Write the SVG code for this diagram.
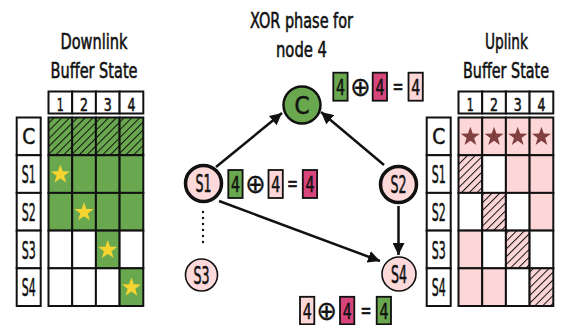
<svg xmlns="http://www.w3.org/2000/svg" width="568" height="325" viewBox="0 0 568 325">
  <style>
    text { font-family: "DejaVu Sans Condensed", "DejaVu Sans", sans-serif; font-stretch: condensed; fill: #111; stroke: #111; stroke-width: 0.55; text-anchor: middle; }
    .title { font-size: 21px; }
    .hdr { font-size: 18px; }
    .lbl { font-size: 25px; }
    .lblc { font-size: 22px; }
    .node { font-size: 24px; }
    .eq { font-size: 22px; }
    .op { font-family: "DejaVu Sans", sans-serif; font-size: 27px; stroke-width: 0.35; }
    .eqs { font-family: "DejaVu Sans", sans-serif; font-size: 22px; stroke-width: 0.6; }
    .cell { stroke: #111; stroke-width: 2; }
    .w { fill: #fff; }
    .g { fill: #6aa84f; }
    .p { fill: #fdd6d8; }
    .m { fill: #d6467c; }
    .box { stroke: #111; stroke-width: 1.8; }
    .edge { fill: none; stroke: #111; stroke-width: 2.5; }
  </style>
  <defs>
    <marker id="arrow" markerUnits="userSpaceOnUse" markerWidth="14" markerHeight="12" refX="12" refY="6" orient="auto">
      <path d="M0,0 L12,6 L0,12 Z" fill="#111"/>
    </marker>
    <pattern id="hatch-g" patternUnits="userSpaceOnUse" width="5.5" height="5.5" patternTransform="rotate(45)">
      <rect width="5.5" height="5.5" fill="#6aa84f"/>
      <line x1="0" y1="0" x2="0" y2="5.5" stroke="#111" stroke-width="2"/>
    </pattern>
    <pattern id="hatch-p" patternUnits="userSpaceOnUse" width="5.5" height="5.5" patternTransform="rotate(45)">
      <rect width="5.5" height="5.5" fill="#fdd6d8"/>
      <line x1="0" y1="0" x2="0" y2="5.5" stroke="#111" stroke-width="2"/>
    </pattern>
    <path id="star" d="M0,-10 L2.35,-3.24 L9.51,-3.09 L3.8,1.24 L5.88,8.09 L0,4 L-5.88,8.09 L-3.8,1.24 L-9.51,-3.09 L-2.35,-3.24 Z"/>
  </defs>

  <!-- Downlink buffer state table -->
  <g id="downlink">
    <text class="title" x="94" y="49" textLength="67" lengthAdjust="spacingAndGlyphs">Downlink</text>
    <text class="title" x="94" y="77.5" textLength="87" lengthAdjust="spacingAndGlyphs">Buffer State</text>
    <!-- column headers -->
    <g class="cell w">
      <rect x="48.5" y="91.5" width="23.7" height="22"/>
      <rect x="72.2" y="91.5" width="23.7" height="22"/>
      <rect x="95.9" y="91.5" width="23.7" height="22"/>
      <rect x="119.6" y="91.5" width="23.7" height="22"/>
    </g>
    <text class="hdr" x="60.35" y="110.5" textLength="7" lengthAdjust="spacingAndGlyphs">1</text>
    <text class="hdr" x="84.05" y="110.5" textLength="8" lengthAdjust="spacingAndGlyphs">2</text>
    <text class="hdr" x="107.75" y="110.5" textLength="8" lengthAdjust="spacingAndGlyphs">3</text>
    <text class="hdr" x="131.45" y="110.5" textLength="8" lengthAdjust="spacingAndGlyphs">4</text>
    <!-- row labels -->
    <g class="cell w">
      <rect x="16.7" y="117.5" width="24" height="37.7"/>
      <rect x="16.7" y="155.2" width="24" height="37.7"/>
      <rect x="16.7" y="192.9" width="24" height="37.7"/>
      <rect x="16.7" y="230.6" width="24" height="37.7"/>
      <rect x="16.7" y="268.3" width="24" height="37.7"/>
    </g>
    <text class="lblc" x="28.7" y="144.3" textLength="13" lengthAdjust="spacingAndGlyphs">C</text>
    <text class="lbl" x="28.7" y="183.2" textLength="14" lengthAdjust="spacingAndGlyphs">S1</text>
    <text class="lbl" x="28.7" y="220.9" textLength="14" lengthAdjust="spacingAndGlyphs">S2</text>
    <text class="lbl" x="28.7" y="258.6" textLength="14" lengthAdjust="spacingAndGlyphs">S3</text>
    <text class="lbl" x="28.7" y="296.3" textLength="14" lengthAdjust="spacingAndGlyphs">S4</text>
    <!-- cells -->
    <g class="cell">
      <rect x="48.5" y="117.5" width="23.7" height="37.7" fill="url(#hatch-g)"/>
      <rect x="72.2" y="117.5" width="23.7" height="37.7" fill="url(#hatch-g)"/>
      <rect x="95.9" y="117.5" width="23.7" height="37.7" fill="url(#hatch-g)"/>
      <rect x="119.6" y="117.5" width="23.7" height="37.7" fill="url(#hatch-g)"/>

      <rect class="g" x="48.5" y="155.2" width="23.7" height="37.7"/>
      <rect class="g" x="72.2" y="155.2" width="23.7" height="37.7"/>
      <rect class="g" x="95.9" y="155.2" width="23.7" height="37.7"/>
      <rect class="g" x="119.6" y="155.2" width="23.7" height="37.7"/>

      <rect class="g" x="48.5" y="192.9" width="23.7" height="37.7"/>
      <rect class="g" x="72.2" y="192.9" width="23.7" height="37.7"/>
      <rect class="g" x="95.9" y="192.9" width="23.7" height="37.7"/>
      <rect class="g" x="119.6" y="192.9" width="23.7" height="37.7"/>

      <rect class="w" x="48.5" y="230.6" width="23.7" height="37.7"/>
      <rect class="w" x="72.2" y="230.6" width="23.7" height="37.7"/>
      <rect class="g" x="95.9" y="230.6" width="23.7" height="37.7"/>
      <rect class="w" x="119.6" y="230.6" width="23.7" height="37.7"/>

      <rect class="w" x="48.5" y="268.3" width="23.7" height="37.7"/>
      <rect class="w" x="72.2" y="268.3" width="23.7" height="37.7"/>
      <rect class="w" x="95.9" y="268.3" width="23.7" height="37.7"/>
      <rect class="g" x="119.6" y="268.3" width="23.7" height="37.7"/>
    </g>
    <g fill="#f5d431">
      <use href="#star" x="60.35" y="174.5"/>
      <use href="#star" x="84.05" y="212.2"/>
      <use href="#star" x="107.75" y="249.9"/>
      <use href="#star" x="131.45" y="287.6"/>
    </g>
  </g>

  <!-- Uplink buffer state table -->
  <g id="uplink">
    <text class="title" x="506.5" y="49.3" textLength="43" lengthAdjust="spacingAndGlyphs">Uplink</text>
    <text class="title" x="506" y="78" textLength="86" lengthAdjust="spacingAndGlyphs">Buffer State</text>
    <g class="cell w">
      <rect x="458.5" y="91.5" width="23.7" height="22"/>
      <rect x="482.2" y="91.5" width="23.7" height="22"/>
      <rect x="505.9" y="91.5" width="23.7" height="22"/>
      <rect x="529.6" y="91.5" width="23.7" height="22"/>
    </g>
    <text class="hdr" x="470.35" y="110.5" textLength="7" lengthAdjust="spacingAndGlyphs">1</text>
    <text class="hdr" x="494.05" y="110.5" textLength="8" lengthAdjust="spacingAndGlyphs">2</text>
    <text class="hdr" x="517.75" y="110.5" textLength="8" lengthAdjust="spacingAndGlyphs">3</text>
    <text class="hdr" x="541.45" y="110.5" textLength="8" lengthAdjust="spacingAndGlyphs">4</text>
    <g class="cell w">
      <rect x="426.7" y="117.5" width="24" height="37.7"/>
      <rect x="426.7" y="155.2" width="24" height="37.7"/>
      <rect x="426.7" y="192.9" width="24" height="37.7"/>
      <rect x="426.7" y="230.6" width="24" height="37.7"/>
      <rect x="426.7" y="268.3" width="24" height="37.7"/>
    </g>
    <text class="lblc" x="438.7" y="144.3" textLength="13" lengthAdjust="spacingAndGlyphs">C</text>
    <text class="lbl" x="438.7" y="183.2" textLength="14" lengthAdjust="spacingAndGlyphs">S1</text>
    <text class="lbl" x="438.7" y="220.9" textLength="14" lengthAdjust="spacingAndGlyphs">S2</text>
    <text class="lbl" x="438.7" y="258.6" textLength="14" lengthAdjust="spacingAndGlyphs">S3</text>
    <text class="lbl" x="438.7" y="296.3" textLength="14" lengthAdjust="spacingAndGlyphs">S4</text>
    <g class="cell">
      <rect class="p" x="458.5" y="117.5" width="23.7" height="37.7"/>
      <rect class="p" x="482.2" y="117.5" width="23.7" height="37.7"/>
      <rect class="p" x="505.9" y="117.5" width="23.7" height="37.7"/>
      <rect class="p" x="529.6" y="117.5" width="23.7" height="37.7"/>

      <rect x="458.5" y="155.2" width="23.7" height="37.7" fill="url(#hatch-p)"/>
      <rect class="w" x="482.2" y="155.2" width="23.7" height="37.7"/>
      <rect class="p" x="505.9" y="155.2" width="23.7" height="37.7"/>
      <rect class="p" x="529.6" y="155.2" width="23.7" height="37.7"/>

      <rect class="w" x="458.5" y="192.9" width="23.7" height="37.7"/>
      <rect x="482.2" y="192.9" width="23.7" height="37.7" fill="url(#hatch-p)"/>
      <rect class="w" x="505.9" y="192.9" width="23.7" height="37.7"/>
      <rect class="p" x="529.6" y="192.9" width="23.7" height="37.7"/>

      <rect class="p" x="458.5" y="230.6" width="23.7" height="37.7"/>
      <rect class="w" x="482.2" y="230.6" width="23.7" height="37.7"/>
      <rect x="505.9" y="230.6" width="23.7" height="37.7" fill="url(#hatch-p)"/>
      <rect class="w" x="529.6" y="230.6" width="23.7" height="37.7"/>

      <rect class="p" x="458.5" y="268.3" width="23.7" height="37.7"/>
      <rect class="p" x="482.2" y="268.3" width="23.7" height="37.7"/>
      <rect class="w" x="505.9" y="268.3" width="23.7" height="37.7"/>
      <rect x="529.6" y="268.3" width="23.7" height="37.7" fill="url(#hatch-p)"/>
    </g>
    <g fill="#80403f">
      <use href="#star" x="470.35" y="136.8"/>
      <use href="#star" x="494.05" y="136.8"/>
      <use href="#star" x="517.75" y="136.8"/>
      <use href="#star" x="541.45" y="136.8"/>
    </g>
  </g>

  <!-- Phase heading -->
  <text class="title" x="301.5" y="28" textLength="103" lengthAdjust="spacingAndGlyphs">XOR phase for</text>
  <text class="title" x="301.5" y="56.5" textLength="51" lengthAdjust="spacingAndGlyphs">node 4</text>

  <!-- Connectors -->
  <g id="connectors">
    <line class="edge" x1="216" y1="167" x2="282" y2="113" marker-end="url(#arrow)"/>
    <line class="edge" x1="384" y1="165" x2="321" y2="112" marker-end="url(#arrow)"/>
    <line class="edge" x1="219" y1="201" x2="380" y2="261" marker-end="url(#arrow)"/>
    <line class="edge" x1="398.5" y1="206" x2="398.5" y2="255" marker-end="url(#arrow)"/>
    <line x1="203" y1="212" x2="203" y2="248" stroke="#111" stroke-width="2.4" stroke-linecap="round" stroke-dasharray="0 6"/>
  </g>

  <!-- Nodes -->
  <g id="node-C">
    <circle cx="302" cy="105" r="18.5" fill="#6aa84f" stroke="#111" stroke-width="2.5"/>
    <text class="node" x="302" y="113.5" textLength="15" lengthAdjust="spacingAndGlyphs">C</text>
  </g>
  <g id="node-S1">
    <circle cx="203.5" cy="183.5" r="18" fill="#fdd9da" stroke="#111" stroke-width="3.5"/>
    <text class="node" x="203.5" y="192" textLength="16" lengthAdjust="spacingAndGlyphs">S1</text>
  </g>
  <g id="node-S2">
    <circle cx="398.5" cy="184.5" r="18" fill="#fdd9da" stroke="#111" stroke-width="3.5"/>
    <text class="node" x="398.5" y="193" textLength="16" lengthAdjust="spacingAndGlyphs">S2</text>
  </g>
  <g id="node-S3">
    <circle cx="201.5" cy="275" r="16" fill="#fdd9da" stroke="#111" stroke-width="1.6"/>
    <text class="node" x="201.5" y="283.5" textLength="16" lengthAdjust="spacingAndGlyphs">S3</text>
  </g>
  <g id="node-S4">
    <circle cx="399" cy="274" r="17" fill="#fdd9da" stroke="#111" stroke-width="1.6"/>
    <text class="node" x="399" y="282.5" textLength="16" lengthAdjust="spacingAndGlyphs">S4</text>
  </g>

  <!-- Equations -->
  <g id="eq-top">
    <rect class="box g" x="333.3" y="72.7" width="14.3" height="28"/>
    <text class="eq" x="340.5" y="94.7" textLength="9" lengthAdjust="spacingAndGlyphs">4</text>
    <text class="op" x="360.5" y="96">⊕</text>
    <rect class="box m" x="372.7" y="72.7" width="14.3" height="28"/>
    <text class="eq" x="379.9" y="94.7" textLength="9" lengthAdjust="spacingAndGlyphs">4</text>
    <text class="eqs" x="398" y="94" textLength="11" lengthAdjust="spacingAndGlyphs">=</text>
    <rect class="box p" x="408.5" y="72.7" width="14.3" height="28"/>
    <text class="eq" x="415.7" y="94.7" textLength="9" lengthAdjust="spacingAndGlyphs">4</text>
  </g>
  <g id="eq-mid">
    <rect class="box g" x="228.3" y="170" width="14.3" height="28"/>
    <text class="eq" x="235.5" y="192" textLength="9" lengthAdjust="spacingAndGlyphs">4</text>
    <text class="op" x="255.5" y="193.3">⊕</text>
    <rect class="box p" x="268.5" y="170" width="14.3" height="28"/>
    <text class="eq" x="275.7" y="192" textLength="9" lengthAdjust="spacingAndGlyphs">4</text>
    <text class="eqs" x="292.5" y="191.3" textLength="11" lengthAdjust="spacingAndGlyphs">=</text>
    <rect class="box m" x="302.8" y="170" width="14.3" height="28"/>
    <text class="eq" x="310" y="192" textLength="9" lengthAdjust="spacingAndGlyphs">4</text>
  </g>
  <g id="eq-bottom">
    <rect class="box p" x="300" y="296.8" width="14.3" height="27.5"/>
    <text class="eq" x="307.2" y="318.6" textLength="9" lengthAdjust="spacingAndGlyphs">4</text>
    <text class="op" x="326.7" y="319.8">⊕</text>
    <rect class="box m" x="340" y="296.8" width="14.3" height="27.5"/>
    <text class="eq" x="347.2" y="318.6" textLength="9" lengthAdjust="spacingAndGlyphs">4</text>
    <text class="eqs" x="366" y="317.8" textLength="11" lengthAdjust="spacingAndGlyphs">=</text>
    <rect class="box g" x="376.7" y="296.8" width="14.3" height="27.5"/>
    <text class="eq" x="383.9" y="318.6" textLength="9" lengthAdjust="spacingAndGlyphs">4</text>
  </g>
</svg>
